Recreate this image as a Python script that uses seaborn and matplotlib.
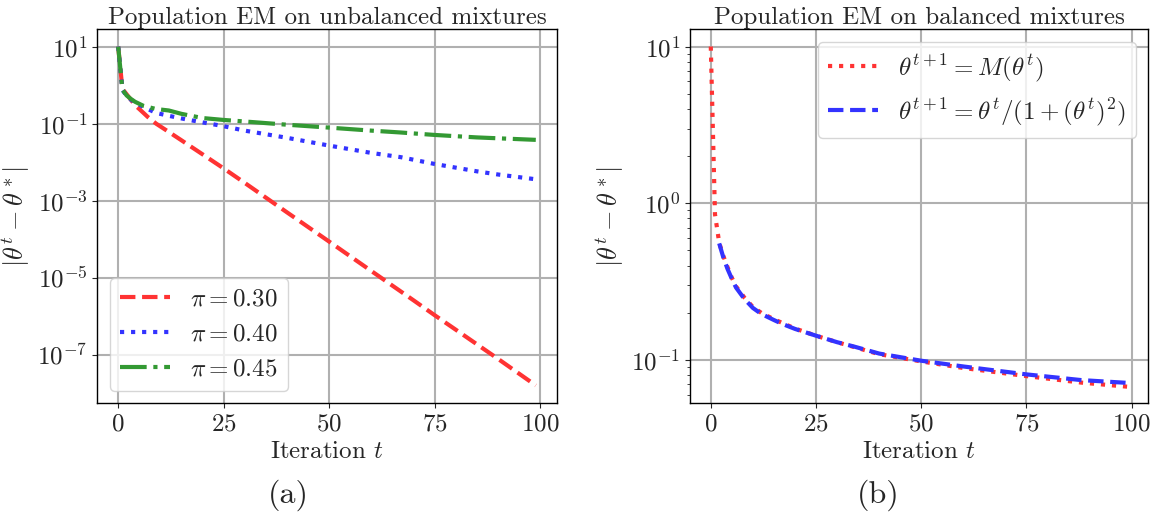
import pandas as pd
import matplotlib
matplotlib.use('Agg')
import matplotlib.pyplot as plt
import numpy as np
import seaborn as sns

t_030 = [0, 1, 2, 3, 4, 5, 6, 7, 9, 12, 15, 20, 25, 30, 40, 50, 60, 70, 75, 80, 90, 99]
err_030 = [10, 0.8, 0.58, 0.42, 0.3, 0.24, 0.19, 0.15, 0.1, 0.061, 0.037, 0.016, 0.0069,
           0.0029, 5.0e-4, 8.7e-5, 1.5e-5, 2.6e-6, 1.07e-6, 4.5e-7, 7.9e-8, 1.6e-8]

t_040 = [0, 1, 2, 3, 4, 6, 9, 12, 16, 20, 25, 30, 40, 50, 60, 67, 75, 85, 90, 99]
err_040 = [10, 0.76, 0.52, 0.42, 0.36, 0.27, 0.19, 0.16, 0.13, 0.108, 0.086, 0.066, 0.043,
           0.027, 0.0174, 0.0135, 0.0090, 0.0058, 0.0048, 0.0036]

t_045 = [0, 1, 2, 3, 4, 6, 9, 12, 15, 20, 25, 30, 40, 50, 60, 67, 75, 85, 99]
err_045 = [10, 0.76, 0.54, 0.44, 0.37, 0.29, 0.24, 0.22, 0.18, 0.14, 0.125, 0.114, 0.094,
           0.079, 0.066, 0.059, 0.051, 0.044, 0.038]

t_em = [0, 1, 2, 3, 4, 5, 6, 8, 10, 12, 15, 20, 25, 30, 40, 50, 60, 75, 88, 99]
err_em = [10, 0.85, 0.56, 0.46, 0.39, 0.335, 0.295, 0.25, 0.218, 0.2, 0.182, 0.159, 0.143,
          0.13, 0.109, 0.098, 0.089, 0.079, 0.0718, 0.0676]

t_rec = [2, 3, 4, 5, 6, 8, 10, 12, 15, 17, 20, 25, 30, 34, 40, 50, 60, 75, 88, 99]
err_rec = [0.555, 0.45, 0.38, 0.33, 0.29, 0.245, 0.215, 0.197, 0.18, 0.17, 0.158, 0.143,
           0.13, 0.122, 0.11, 0.099, 0.091, 0.081, 0.0745, 0.0715]

sns.set_style('ticks')
plt.rcParams['font.family'] = 'serif'
plt.rcParams['font.serif'] = ['cmr10']
plt.rcParams['mathtext.fontset'] = 'cm'
plt.rcParams['axes.formatter.use_mathtext'] = True
plt.rcParams['axes.unicode_minus'] = False
plt.rcParams['font.size'] = 18

fig = plt.figure(figsize=(11.53, 5.16), dpi=100)
ax1 = fig.add_axes([0.0844, 0.2184, 0.3984, 0.7248])
ax2 = fig.add_axes([0.5984, 0.2184, 0.3975, 0.7248])

sns.lineplot(x=t_030, y=err_030, ax=ax1, color=(1, 0.2, 0.2), linestyle='--', linewidth=3,
             label=r'$\pi = 0.30$', estimator=None, sort=False)
sns.lineplot(x=t_040, y=err_040, ax=ax1, color=(0.2, 0.2, 1), linestyle=':', linewidth=3,
             label=r'$\pi = 0.40$', estimator=None, sort=False)
sns.lineplot(x=t_045, y=err_045, ax=ax1, color=(0.2, 0.6, 0.2), linestyle='-.', linewidth=3,
             label=r'$\pi = 0.45$', estimator=None, sort=False)

sns.lineplot(x=t_em, y=err_em, ax=ax2, color=(1, 0.2, 0.2), linestyle=':', linewidth=3,
             label=r'$\theta^{t+1} = M(\theta^t)$', estimator=None, sort=False)
sns.lineplot(x=t_rec, y=err_rec, ax=ax2, color=(0.2, 0.2, 1), linestyle='--', linewidth=3,
             label=r'$\theta^{t+1} = \theta^t/(1+(\theta^t)^2)$', estimator=None, sort=False)

for ax in (ax1, ax2):
    ax.set_yscale('log')
    ax.set_xlim(-4.95, 103.95)
    ax.set_xticks([0, 25, 50, 75, 100])
    ax.grid(True, which='major', color='#b0b0b0', linewidth=1.5)
    ax.set_xlabel(r'Iteration $t$', fontsize=18)
    ax.set_ylabel(r'$|\theta^t - \theta^*|$', fontsize=19)
    ax.tick_params(labelsize=18)
    for s in ax.spines.values():
        s.set_linewidth(1.0)
        s.set_color('black')

ax1.set_ylim(10**-8.26, 10**1.45)
ax1.set_yticks([1e1, 1e-1, 1e-3, 1e-5, 1e-7])
ax1.yaxis.set_minor_locator(matplotlib.ticker.NullLocator())
ax2.set_ylim(10**-1.276, 10**1.11)
ax2.set_yticks([1e1, 1e0, 1e-1])
ax2.yaxis.set_minor_formatter(matplotlib.ticker.NullFormatter())

ax1.set_title('Population EM on unbalanced mixtures', fontsize=18, pad=2)
ax2.set_title('Population EM on balanced mixtures', fontsize=18, pad=2)

ax1.legend(loc='lower left', fontsize=18, framealpha=0.8)
ax2.legend(loc='upper right', fontsize=18, framealpha=0.8)

fig.text(0.25, 0.04, '(a)', ha='center', va='center', fontsize=23)
fig.text(0.762, 0.04, '(b)', ha='center', va='center', fontsize=23)

fig.savefig('out.png', dpi=100)
